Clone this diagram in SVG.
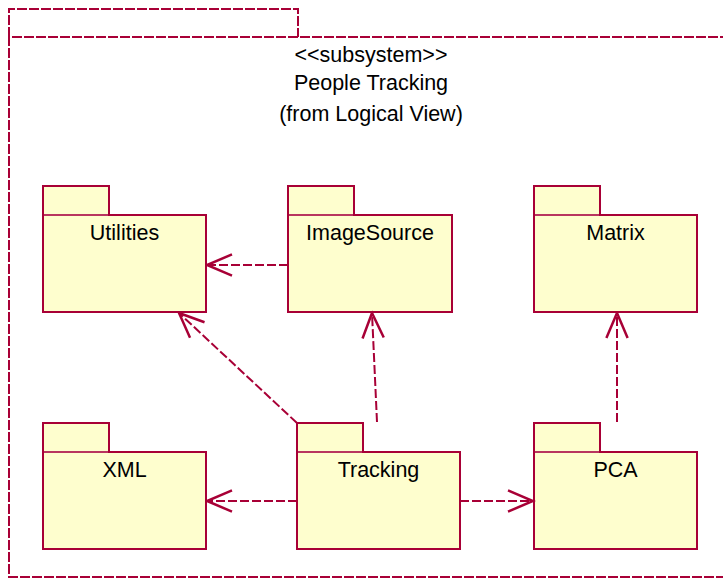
<svg xmlns="http://www.w3.org/2000/svg" width="723" height="579" viewBox="0 0 723 579">
<style>
.frame{fill:none;stroke:#A80036;stroke-width:2;stroke-dasharray:10,2}
.pkg{fill:#FEFECE;stroke:#A80036;stroke-width:2}
.sep{stroke:#C96A88;stroke-width:1}
.lbl{font-family:"Liberation Sans",Arial,sans-serif;font-size:21.5px;fill:#000;text-anchor:middle}
.conn{fill:none;stroke:#A80036;stroke-width:2;stroke-dasharray:9,3}
</style>
<defs>
<marker id="arr" markerUnits="userSpaceOnUse" markerWidth="30" markerHeight="30" viewBox="-22 -11 24 22" refX="0" refY="0" orient="auto">
<path d="M -20,-8.5 L 0,0 L -20,8.5" fill="none" stroke="#A80036" stroke-width="2"/>
</marker>
</defs>
<g id="frame">
<path class="frame" d="M 9,37 L 9,9 L 298,9 L 298,37"/>
<path class="frame" d="M 730,37 L 9,37 L 9,577 L 730,577"/>
<text class="lbl" x="371" y="62">&lt;&lt;subsystem&gt;&gt;</text>
<text class="lbl" x="371" y="90">People Tracking</text>
<text class="lbl" x="371" y="121">(from Logical View)</text>
</g>
<g id="Utilities">
<rect class="pkg" x="43" y="186" width="66" height="29"/>
<rect class="pkg" x="43" y="215" width="163" height="97"/>
<line class="sep" x1="44" y1="215" x2="108" y2="215"/>
<text class="lbl" x="124.5" y="240">Utilities</text>
</g>
<g id="ImageSource">
<rect class="pkg" x="288" y="186" width="66" height="29"/>
<rect class="pkg" x="288" y="215" width="164" height="97"/>
<line class="sep" x1="289" y1="215" x2="353" y2="215"/>
<text class="lbl" x="370" y="240">ImageSource</text>
</g>
<g id="Matrix">
<rect class="pkg" x="534" y="186" width="66" height="29"/>
<rect class="pkg" x="534" y="215" width="163" height="97"/>
<line class="sep" x1="535" y1="215" x2="599" y2="215"/>
<text class="lbl" x="615.5" y="240">Matrix</text>
</g>
<g id="XML">
<rect class="pkg" x="43" y="423" width="66" height="29"/>
<rect class="pkg" x="43" y="452" width="163" height="97"/>
<line class="sep" x1="44" y1="452" x2="108" y2="452"/>
<text class="lbl" x="124.5" y="477">XML</text>
</g>
<g id="Tracking">
<rect class="pkg" x="297" y="423" width="66" height="29"/>
<rect class="pkg" x="297" y="452" width="163" height="97"/>
<line class="sep" x1="298" y1="452" x2="362" y2="452"/>
<text class="lbl" x="378.5" y="477">Tracking</text>
</g>
<g id="PCA">
<rect class="pkg" x="534" y="423" width="66" height="29"/>
<rect class="pkg" x="534" y="452" width="163" height="97"/>
<line class="sep" x1="535" y1="452" x2="599" y2="452"/>
<text class="lbl" x="615.5" y="477">PCA</text>
</g>
<g id="connectors">
<line class="conn" x1="288" y1="265" x2="207" y2="265" marker-end="url(#arr)"/>
<line class="conn" x1="297" y1="423" x2="179" y2="313" marker-end="url(#arr)"/>
<line class="conn" x1="377" y1="422" x2="372" y2="313" marker-end="url(#arr)"/>
<line class="conn" x1="617" y1="422" x2="617" y2="313" marker-end="url(#arr)"/>
<line class="conn" x1="297" y1="501" x2="207" y2="501" marker-end="url(#arr)"/>
<line class="conn" x1="460" y1="501" x2="533" y2="501" marker-end="url(#arr)"/>
</g>
</svg>
